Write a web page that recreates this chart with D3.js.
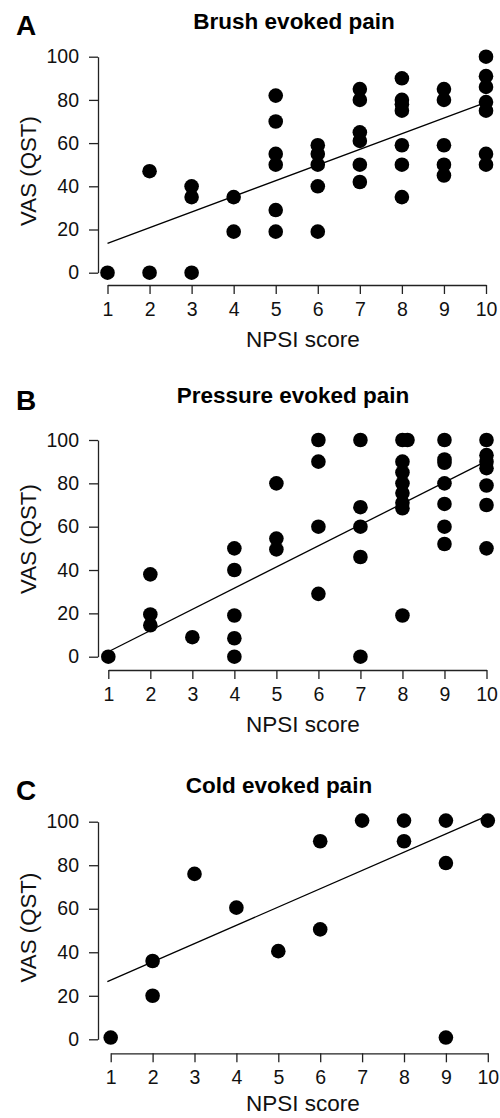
<!DOCTYPE html>
<html>
<head>
<meta charset="utf-8">
<script src="https://cdn.jsdelivr.net/npm/d3@7"></script>
<style>
  html, body { margin: 0; padding: 0; background: #fff; }
  svg { display: block; font-family: "Liberation Sans", Arial, Helvetica, sans-serif; }
</style>
</head>
<body>
<svg id="chart" width="500" height="1118"></svg>
<script>
// ---------- data ----------
const panelLetters = ["A", "B", "C"];
const panelTitles = ["Brush evoked pain", "Pressure evoked pain", "Cold evoked pain"];
const xTicks = [1, 2, 3, 4, 5, 6, 7, 8, 9, 10];
const yTicks = [0, 20, 40, 60, 80, 100];
const xLabel = "NPSI score";
const yLabel = "VAS (QST)";

// Panel A – brush evoked pain
const npsiA = [1, 2, 2, 3, 3, 3, 4, 4,
  5, 5, 5, 5, 5, 5,
  6, 6, 6, 6, 6,
  7, 7, 7, 7, 7, 7,
  8, 8, 8, 8, 8, 8, 8,
  9, 9, 9, 9, 9,
  10, 10, 10, 10, 10, 10, 10];
const vasA = [0, 0, 47, 0, 40, 35, 35, 19,
  82, 70, 55, 50, 29, 19,
  59, 55, 50, 40, 19,
  85, 80, 65, 61, 50, 42,
  90, 80, 78, 75, 59, 50, 35,
  85, 80, 59, 50, 45,
  100, 91, 86, 79, 75, 55, 50];

// Panel B – pressure evoked pain
const npsiB = [1, 2, 2, 2, 3,
  4, 4, 4, 4, 4,
  5, 5, 5,
  6, 6, 6, 6,
  7, 7, 7, 7, 7,
  8, 8.12, 8, 8, 8, 8, 8, 8, 8,
  9, 9, 9, 9, 9, 9, 9,
  10, 10, 10, 10, 10, 10, 10];
const vasB = [0, 38, 19.5, 14.5, 9,
  50, 40, 19, 8.5, 0,
  80, 54.5, 49.5,
  100, 90, 60, 29,
  100, 69, 60, 46, 0,
  100, 100, 90, 85, 80, 75.5, 71, 68.5, 19,
  100, 91, 89.5, 80, 70.5, 60, 52,
  100, 93, 90, 87, 79, 70, 50];

// Panel C – cold evoked pain
const npsiC = [1, 2, 2, 3, 4, 5, 6, 6, 7, 8, 8, 9, 9, 9, 10];
const vasC = [0.8, 36, 20, 76, 60.5, 40.5, 91, 50.5, 100.5, 100.5, 91, 100.5, 81, 0.8, 100.5];

// Regression lines: intercept at x=1, slope, x start, x end
const fitIntercept = [13.6, 2.3, 27.2];
const fitSlope = [7.25, 9.77, 8.4];
const fitStart = [1, 1, 0.92];
const fitEnd = [10, 10, 10];

// ---------- layout ----------
const panels = [
  { xs: npsiA, ys: vasA, yAxisX: 98, y0: 272.7, y100: 56.7, x1: 107.5, x10: 486, xAxisY: 285,
    letterY: 35, titleY: 28.5, titleX: 294, yLabelC: 171, xLabelOff: 61.5 },
  { xs: npsiB, ys: vasB, yAxisX: 98, y0: 656.7, y100: 440, x1: 108.3, x10: 486.5, xAxisY: 670,
    letterY: 410, titleY: 403, titleX: 293, yLabelC: 539, xLabelOff: 61.5 },
  { xs: npsiC, ys: vasC, yAxisX: 98, y0: 1039.3, y100: 821.7, x1: 110.7, x10: 487.8, xAxisY: 1053.3,
    letterY: 799.5, titleY: 793, titleX: 279, yLabelC: 927.5, xLabelOff: 58 }
];

const svg = d3.select("#chart");
const axisColor = "#222";

panels.forEach((p, i) => {
  const g = svg.append("g");
  const x = d3.scaleLinear().domain([1, 10]).range([p.x1, p.x10]);
  const y = d3.scaleLinear().domain([0, 100]).range([p.y0, p.y100]);

  const yAxis = d3.axisLeft(y).tickValues(yTicks).tickSize(9).tickPadding(10).tickSizeOuter(0);
  const ya = g.append("g").attr("transform", `translate(${p.yAxisX},0)`).call(yAxis);
  const xAxis = d3.axisBottom(x).tickValues(xTicks).tickSize(9).tickPadding(8).tickSizeOuter(0);
  const xa = g.append("g").attr("transform", `translate(0,${p.xAxisY})`).call(xAxis);

  [ya, xa].forEach(a => {
    a.select(".domain").attr("stroke", axisColor).attr("stroke-width", 1.3);
    a.selectAll(".tick line").attr("stroke", axisColor).attr("stroke-width", 1.3);
    a.selectAll(".tick text").attr("fill", "#111").style("font-size", "19.5px")
      .style("font-family", '"Liberation Sans", Arial, sans-serif');
  });

  // regression line
  const fitX = [fitStart[i], fitEnd[i]];
  g.append("path")
    .datum(fitX)
    .attr("d", d3.line().x(d => x(d)).y(d => y(fitIntercept[i] + fitSlope[i] * (d - 1))))
    .attr("stroke", "#000").attr("stroke-width", 1.3).attr("fill", "none");

  // points
  g.selectAll("circle.pt")
    .data(p.xs.map((v, k) => [v, p.ys[k]]))
    .join("circle")
    .attr("class", "pt")
    .attr("cx", d => x(d[0]))
    .attr("cy", d => y(d[1]))
    .attr("r", 7.3)
    .attr("fill", "#000");

  // panel letter
  g.append("text").text(panelLetters[i])
    .attr("x", 16).attr("y", p.letterY)
    .style("font-size", "28px").style("font-weight", "bold").attr("fill", "#000");

  // title
  g.append("text").text(panelTitles[i])
    .attr("x", p.titleX).attr("y", p.titleY)
    .attr("text-anchor", "middle")
    .style("font-size", "22.5px").style("font-weight", "bold").attr("fill", "#000");

  // x label
  g.append("text").text(xLabel)
    .attr("x", 303).attr("y", p.xAxisY + p.xLabelOff)
    .attr("text-anchor", "middle")
    .style("font-size", "22.5px").attr("fill", "#111");

  // y label
  g.append("text").text(yLabel)
    .attr("transform", `translate(35.5,${p.yLabelC}) rotate(-90)`)
    .attr("text-anchor", "middle")
    .style("font-size", "22.3px").attr("fill", "#111");
});
</script>
</body>
</html>
